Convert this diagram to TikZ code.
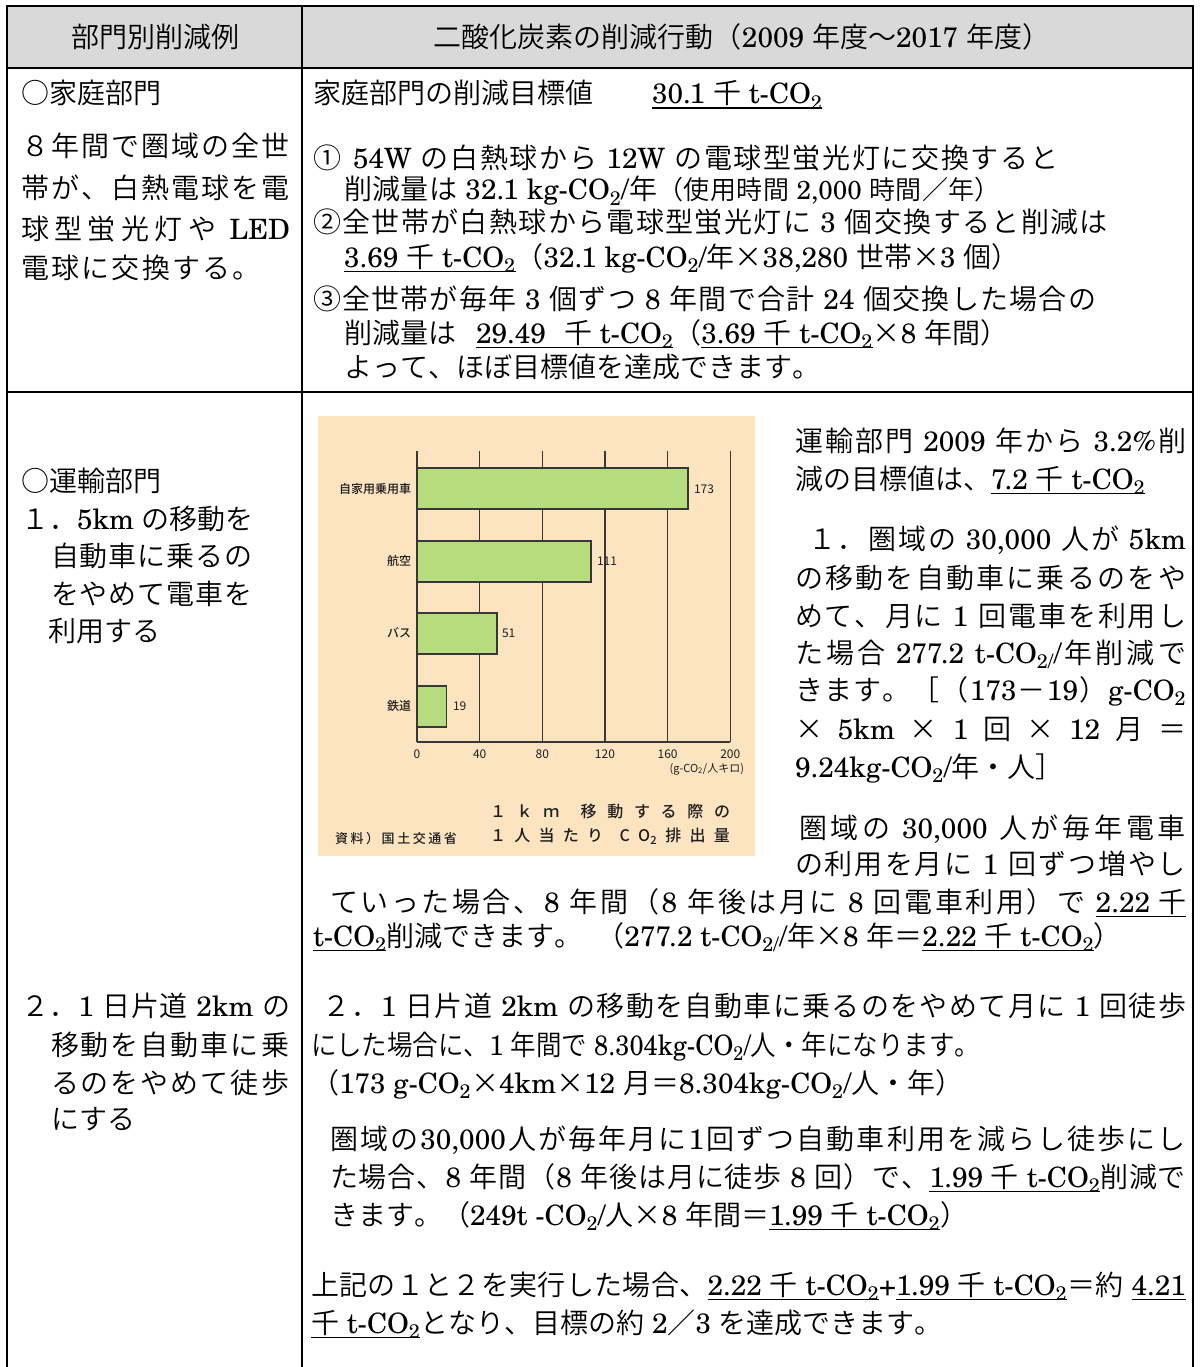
\documentclass[tikz,border=0pt]{standalone}
\usepackage{graphicx}
\usepackage{fontspec}
\IfFontExistsTF{TeX Gyre Schola}{\setmainfont{TeX Gyre Schola}}{\setmainfont{Liberation Serif}}
\IfFontExistsTF{Noto Sans CJK JP DemiLight}{\newfontfamily\jpfont{Noto Sans CJK JP DemiLight}}{\newfontfamily\jpfont{Noto Sans CJK JP}}
\newfontfamily\jpchart{Noto Sans CJK JP}
\IfFontExistsTF{Noto Sans CJK JP Medium}{\newfontfamily\jpchartb{Noto Sans CJK JP Medium}}{\newfontfamily\jpchartb{Noto Sans CJK JP}}
\newcommand\ltfont{\rmfamily}
\newcommand\jpglue{\hskip 0pt plus 4pt minus 0.6pt\relax}
\newXeTeXintercharclass\jpclass
\newcount\jpc
\newcommand\jprange[2]{\jpc=#1\relax\loop\XeTeXcharclass\jpc=\jpclass\advance\jpc by 1\relax\ifnum\jpc<#2\repeat}
\jprange{"2460}{"2500}
\jprange{"25A0}{"2600}
\jprange{"3000}{"3100}
\jprange{"4E00}{"A000}
\jprange{"FF00}{"FFF0}
\XeTeXinterchartoks 0 \jpclass = {\jpglue\jpfont}
\XeTeXinterchartoks 4095 \jpclass = {\jpfont}
\XeTeXinterchartoks \jpclass 0 = {\ltfont\jpglue}
\XeTeXinterchartoks \jpclass 4095 = {\ltfont}
\XeTeXinterchartoks \jpclass \jpclass = {\jpglue}
\XeTeXinterchartokenstate=1
\newcommand\chartfont{\jpchart\XeTeXinterchartokenstate=0\relax}
\newcommand\chartfontb{\jpchartb\XeTeXinterchartokenstate=0\relax}
\newcommand\COt{CO\textsubscript{2}}
\newcommand\tco{t-CO\textsubscript{2}}
\newcommand\tm{\hbox to 1em{\hss\jpfont ×\hss}}
\newsavebox\ulbox
\newcommand\ulx[1]{\sbox\ulbox{#1}\rlap{\usebox\ulbox}\rule[-5pt]{\wd\ulbox}{1.5pt}}
\definecolor{hdrgray}{RGB}{217,217,217}
\definecolor{chartbg}{RGB}{253,228,193}
\definecolor{bargreen}{RGB}{181,221,128}
\definecolor{gridc}{RGB}{55,55,55}
\definecolor{charttext}{RGB}{30,30,30}
\begin{document}
\begin{tikzpicture}[x=1pt,y=-1pt,
  tx/.style={anchor=base west, inner sep=0pt, outer sep=0pt, font=\fontsize{28}{33}\selectfont},
  tline/.style={line width=2.4pt, draw=black},
  gridln/.style={draw=gridc, line width=1.3pt},
  bar/.style={draw=gridc, line width=1.3pt, fill=bargreen},
  clab/.style={inner sep=0pt, outer sep=0pt, text=charttext, font=\chartfont\fontsize{12}{14}\selectfont},
  clabb/.style={clab, font=\chartfontb\fontsize{12}{14}\selectfont}]
\useasboundingbox (0,0) rectangle (1199,1367);
\fill[white] (0,0) rectangle (1199,1367);
% header background
\fill[hdrgray] (7,6) rectangle (1193,68);
% chart background
\fill[chartbg] (318,416) rectangle (755,856);
% chart grid
\foreach \i in {0,...,5} \draw[gridln] ({417+62.66*\i},451) -- ({417+62.66*\i},742);
\draw[gridln] (417,742) -- (730.3,742);
\draw[bar] (417,468) rectangle (688,509);
\draw[bar] (417,541) rectangle (590.9,582);
\draw[bar] (417,613) rectangle (496.9,654);
\draw[bar] (417,686) rectangle (446.8,727);
\node[clabb, anchor=east] (cat1) at (411,489) {自家用乗用車};
\node[clabb, anchor=east] (cat2) at (411,561) {航空};
\node[clabb, anchor=east] (cat3) at (411,633) {バス};
\node[clabb, anchor=east] (cat4) at (411,706) {鉄道};
\node[clab, anchor=west] (val1) at (694,489) {173};
\node[clab, anchor=west] (val2) at (597,561) {111};
\node[clab, anchor=west] (val3) at (502,633) {51};
\node[clab, anchor=west] (val4) at (453,706) {19};
\foreach \v [count=\i from 0] in {0,40,80,120,160,200}
  \node[clab] (tick\i) at ({417+62.66*\i},754) {\v};
\node[clab, anchor=east, font=\chartfont\fontsize{11}{13}\selectfont] (unit) at (744,769) {(g-CO\textsubscript{2}/人キロ)};
\node[clab, anchor=west, font=\chartfontb\fontsize{16}{18}\selectfont] (cap1) at (490,811)
  {\makebox[240pt][s]{１\hfill ｋ\hfill ｍ\hfill\hfill 移\hfill 動\hfill す\hfill る\hfill 際\hfill の}};
\node[clab, anchor=west, font=\chartfontb\fontsize{16}{18}\selectfont] (cap2) at (490,836)
  {\makebox[240pt][s]{１\hfill 人\hfill 当\hfill た\hfill り\hfill\hfill C\hfill O\textsubscript{2}\hfill 排\hfill 出\hfill 量}};
\node[clab, anchor=west, font=\chartfontb\fontsize{13}{15}\selectfont] (src) at (335,839)
  {\makebox[122pt][s]{資\hfill 料\hfill ）\hfill 国\hfill 土\hfill 交\hfill 通\hfill 省}};
% table rules
\draw[tline] (7,1372) -- (7,6) -- (1193,6) -- (1193,1372);
\draw[tline] (7,68) -- (1193,68);
\draw[tline] (7,392) -- (1193,392);
\draw[tline] (302,6) -- (302,1372);
% header
\node[tx, anchor=base] (h1) at (155,48) {部門別削減例};
\node[tx, anchor=base] (h2) at (742,48) {二酸化炭素の削減行動（2009 年度～2017 年度）};
% row 1 left
\node[tx] (a1) at (21,104) {○家庭部門};
\node[tx] (a2) at (21,157) {\makebox[269pt][s]{８年間で圏域の全世}};
\node[tx] (a3) at (21,198) {\makebox[269pt][s]{帯が、白熱電球を電}};
\node[tx] (a4) at (21,239) {\makebox[269pt][s]{球型蛍光灯や LED}};
\node[tx] (a5) at (21,278) {\makebox[240pt][s]{電球に交換する。}};
% row 1 right
\node[tx] (b1) at (313,104) {家庭部門の削減目標値};
\node[tx] (b1u) at (652,104) {\ulx{30.1 千 \tco}};
\node[tx] (b2) at (313,169) {\makebox[745pt][s]{①\hspace{12pt}54W の白熱球から 12W の電球型蛍光灯に交換すると}};
\node[tx] (b3) at (344,200) {\makebox[657pt][s]{削減量は 32.1 kg-\COt/年{\fontsize{26}{30}\selectfont（使用時間 2,000 時間／年）}}};
\node[tx] (b4) at (313,233) {\makebox[795pt][s]{②全世帯が白熱球から電球型蛍光灯に 3 個交換すると削減は}};
\node[tx] (b5) at (344,267) {\ulx{3.69 千 \tco}（32.1 kg-\COt/年\tm 38,280 世帯\tm 3 個）};
\node[tx] (b6) at (313,309) {\makebox[783pt][s]{③全世帯が毎年 3 個ずつ 8 年間で合計 24 個交換した場合の}};
\node[tx] (b7) at (344,343) {削減量は};
\node[tx] (b7u) at (476,343) {\ulx{29.49\hspace{18pt}千 \tco}（\ulx{3.69 千 \tco}\tm 8 年間）};
\node[tx] (b8) at (344,377) {よって、ほぼ目標値を達成できます。};
% row 2 left
\node[tx] (d1) at (21,491) {○運輸部門};
\node[tx] (d2) at (21,529) {１．5km の移動を};
\node[tx] (d3) at (51,566) {\makebox[202pt][s]{自動車に乗るの}};
\node[tx] (d4) at (51,604) {\makebox[202pt][s]{をやめて電車を}};
\node[tx] (d5) at (48,641) {利用する};
\node[tx] (c1) at (21,1016) {\makebox[269pt][s]{２．1 日片道 2km の}};
\node[tx] (c2) at (51,1055) {\makebox[238pt][s]{移動を自動車に乗}};
\node[tx] (c3) at (51,1093) {\makebox[238pt][s]{るのをやめて徒歩}};
\node[tx] (c4) at (51,1129) {にする};
% row 2 right, beside chart
\node[tx] (e1) at (795,451) {\makebox[391pt][s]{運輸部門 2009 年から 3.2\%削}};
\node[tx] (e2) at (795,489) {減の目標値は、\ulx{7.2 千 \tco}};
\node[tx] (e3) at (795,549) {\makebox[391pt][s]{\hspace{13pt}１．圏域の 30,000 人が 5km}};
\node[tx] (e4) at (795,588) {\makebox[391pt][s]{の移動を自動車に乗るのをや}};
\node[tx] (e5) at (795,626) {\makebox[391pt][s]{めて、月に 1 回電車を利用し}};
\node[tx] (e6) at (795,663) {\makebox[391pt][s]{た場合 277.2 t-CO\textsubscript{2/}/年削減で}};
\node[tx] (e7) at (795,700) {\makebox[391pt][s]{きます。［（173－19）g-\COt}};
\node[tx] (e8) at (795,739) {\makebox[391pt][s]{\tm\ 5km \tm\ 1 回 \tm\ 12 月 ＝}};
\node[tx] (e9) at (795,777) {9.24kg-\COt/年・人］};
\node[tx] (e10) at (795,838) {\makebox[391pt][s]{\hspace{4pt}圏域の 30,000 人が毎年電車}};
\node[tx] (e11) at (795,874) {\makebox[391pt][s]{の利用を月に 1 回ずつ増やし}};
% row 2 right, full width
\node[tx] (f1) at (330,912) {\makebox[856pt][s]{ていった場合、8 年間（8 年後は月に 8 回電車利用）で \ulx{2.22 千}}};
\node[tx] (f2) at (313,946) {\ulx{\tco}削減できます。\hspace{14pt}（277.2 t-CO\textsubscript{2/}/年\tm 8 年＝\ulx{2.22 千 \tco}）};
\node[tx] (f3) at (322,1016) {\makebox[864pt][s]{２．1 日片道 2km の移動を自動車に乗るのをやめて月に 1 回徒歩}};
\node[tx] (f4) at (311,1055) {\scalebox{0.91}[1]{にした場合に、1 年間で 8.304kg-\COt/人・年になります。}};
\node[tx] (f5) at (311,1093) {（173 g-\COt\tm 4km\tm 12 月＝8.304kg-\COt/人・年）};
\node[tx] (f6) at (330,1149) {\makebox[856pt][s]{圏域の30,000人が毎年月に1回ずつ自動車利用を減らし徒歩にし}};
\node[tx] (f7) at (330,1187) {\makebox[856pt][s]{た場合、8 年間（8 年後は月に徒歩 8 回）で、\ulx{1.99 千 \tco}削減で}};
\node[tx] (f8) at (330,1225) {きます。（249t -\COt/人\tm 8 年間＝\ulx{1.99 千 \tco}）};
\node[tx] (f9) at (311,1295) {\makebox[875pt][s]{上記の１と２を実行した場合、\ulx{2.22 千 \tco}+\ulx{1.99 千 \tco}＝約 \ulx{4.21}}};
\node[tx] (f10) at (311,1333) {\ulx{千 \tco}となり、目標の約 2／3 を達成できます。};
\end{tikzpicture}
\end{document}
